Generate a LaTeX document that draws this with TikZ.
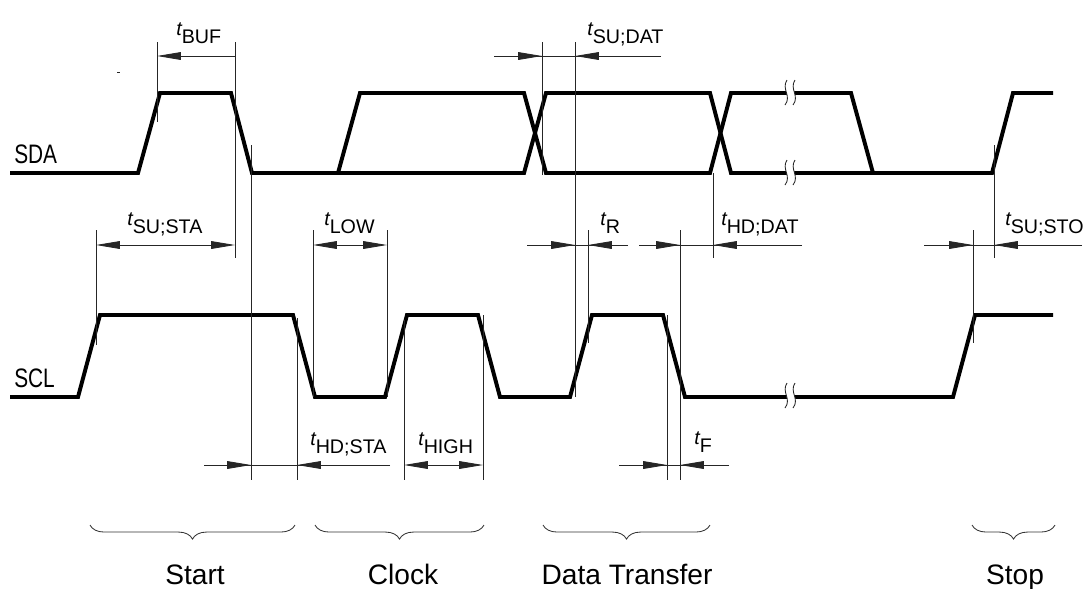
\documentclass[tikz,border=0pt]{standalone}
\usepackage{fontspec}
\setmainfont{Liberation Sans}
\newfontfamily\narrowsans[FakeStretch=0.78]{Liberation Sans}
\usepackage{tikz}
\usetikzlibrary{arrows.meta, decorations.pathreplacing}

% timing parameter label: raised italic t, then the subscript
\newcommand{\tparam}[1]{\raisebox{5.5pt}{\itshape t}#1}
% break mark on a signal line
\newcommand{\breakmark}[2]{%
  \fill[white] (#1-3,#2-13) .. controls (#1-9,#2-4) and (#1+2,#2+3) .. (#1-5,#2+12)
    -- (#1+3,#2+12) .. controls (#1+10,#2+3) and (#1-1,#2-4) .. (#1+5,#2-13) -- cycle;
  \draw[ext] (#1-3,#2-13) .. controls (#1-9,#2-4) and (#1+2,#2+3) .. (#1-5,#2+12);
  \draw[ext] (#1+5,#2-13) .. controls (#1-1,#2-4) and (#1+10,#2+3) .. (#1+3,#2+12);
}

\begin{document}
\begin{tikzpicture}[
  x=0.025cm, y=-0.025cm,
  signal/.style={line width=2.8pt},
  ext/.style={line width=0.6pt, black!85},
  dim/.style={ext, -{Triangle[length=17pt,width=5.5pt]}},
  dimboth/.style={ext, {Triangle[length=17pt,width=5.5pt]}-{Triangle[length=17pt,width=5.5pt]}},
  tlabel/.style={anchor=base west, inner sep=0pt, font=\fontsize{14}{16}\selectfont},
  siglabel/.style={anchor=base west, inner sep=0pt, font=\narrowsans\fontsize{19}{22}\selectfont},
  phase/.style={anchor=base, inner sep=0pt, font=\fontsize{20}{24}\selectfont},
  phasebrace/.style={decorate, decoration={brace, mirror, amplitude=10pt}, line width=0.6pt, black!80}
]
\useasboundingbox (0,0) rectangle (1083,588);

% Signals
\draw[signal] (10,173) -- (138,173) -- (160,93) -- (231,93) -- (252,173) -- (524,173) -- (546,93)
  -- (710,93) -- (731,173) -- (992,173) -- (1013,93) -- (1053,93);
\draw[signal] (338,173) -- (360,93) -- (524,93) -- (546,173) -- (710,173) -- (731,93) -- (851,93) -- (873,173);
\draw[signal] (10,397) -- (78,397) -- (100,315) -- (293,315) -- (315,397) -- (385,397) -- (407,315)
  -- (478,315) -- (500,397) -- (570,397) -- (592,315) -- (663,315) -- (685,397) -- (953,397)
  -- (975,315) -- (1053,315);
\draw[ext] (117,72) -- (120,72);

\breakmark{790}{93}
\breakmark{790}{173}
\breakmark{790}{396}

\node[siglabel] (sda) at (14,163) {SDA};
\node[siglabel] (scl) at (14,387) {SCL};

% Extension lines
\foreach \x/\ya/\yb in {157/42/122, 235/42/258, 251/145/480, 96/230/345, 297/318/480,
  313/230/397, 387/230/397, 404/320/480, 483/315/480, 542/42/175, 575/42/397, 588/230/343,
  667/315/480, 680/230/480, 713/173/258, 973/230/343, 994/145/258}
  \draw[ext] (\x,\ya) -- (\x,\yb);

% Dimensions, top row
\draw[dim] (235,56) -- (157,56);
\draw[ext] (494,56) -- (661,56);
\draw[dim] (494,56) -- (542,56);
\draw[dim] (661,56) -- (575,56);
\node[tlabel] (tbuf) at (176,43) {\tparam{BUF}};
\node[tlabel] (tsudat) at (587,43) {\tparam{SU;DAT}};

% Dimensions, middle row
\draw[dimboth] (96,245) -- (235,245);
\draw[dimboth] (313,245) -- (387,245);
\draw[ext] (527,245) -- (628,245);
\draw[dim] (527,245) -- (575,245);
\draw[dim] (628,245) -- (588,245);
\draw[ext] (639,245) -- (802,245);
\draw[dim] (639,245) -- (680,245);
\draw[dim] (802,245) -- (713,245);
\draw[ext] (924,245) -- (1082,245);
\draw[dim] (924,245) -- (973,245);
\draw[dim] (1082,245) -- (994,245);
\node[tlabel] (tsusta) at (127,233) {\tparam{SU;STA}};
\node[tlabel] (tlow) at (324,233) {\tparam{LOW}};
\node[tlabel] (tr) at (600,233) {\tparam{R}};
\node[tlabel] (thddat) at (721,233) {\tparam{HD;DAT}};
\node[tlabel] (tsusto) at (1005,233) {\tparam{SU;STO}};

% Dimensions, bottom row
\draw[ext] (204,465) -- (390,465);
\draw[dim] (204,465) -- (251,465);
\draw[dim] (390,465) -- (297,465);
\draw[dimboth] (404,465) -- (483,465);
\draw[ext] (619,465) -- (729,465);
\draw[dim] (619,465) -- (667,465);
\draw[dim] (729,465) -- (680,465);
\node[tlabel] (thdsta) at (310,453) {\tparam{HD;STA}};
\node[tlabel] (thigh) at (418,453) {\tparam{HIGH}};
\node[tlabel] (tf) at (694,452) {\tparam{F}};

% Phases
\draw[phasebrace] (90,525) -- (295,525);
\draw[phasebrace] (315,525) -- (484,525);
\draw[phasebrace] (543,525) -- (710,525);
\draw[phasebrace] (972,525) -- (1055,525);
\node[phase] (start) at (195,584) {Start};
\node[phase] (clock) at (403,584) {Clock};
\node[phase] (transfer) at (627,584) {Data Transfer};
\node[phase] (stop) at (1015,584) {Stop};

\end{tikzpicture}
\end{document}
